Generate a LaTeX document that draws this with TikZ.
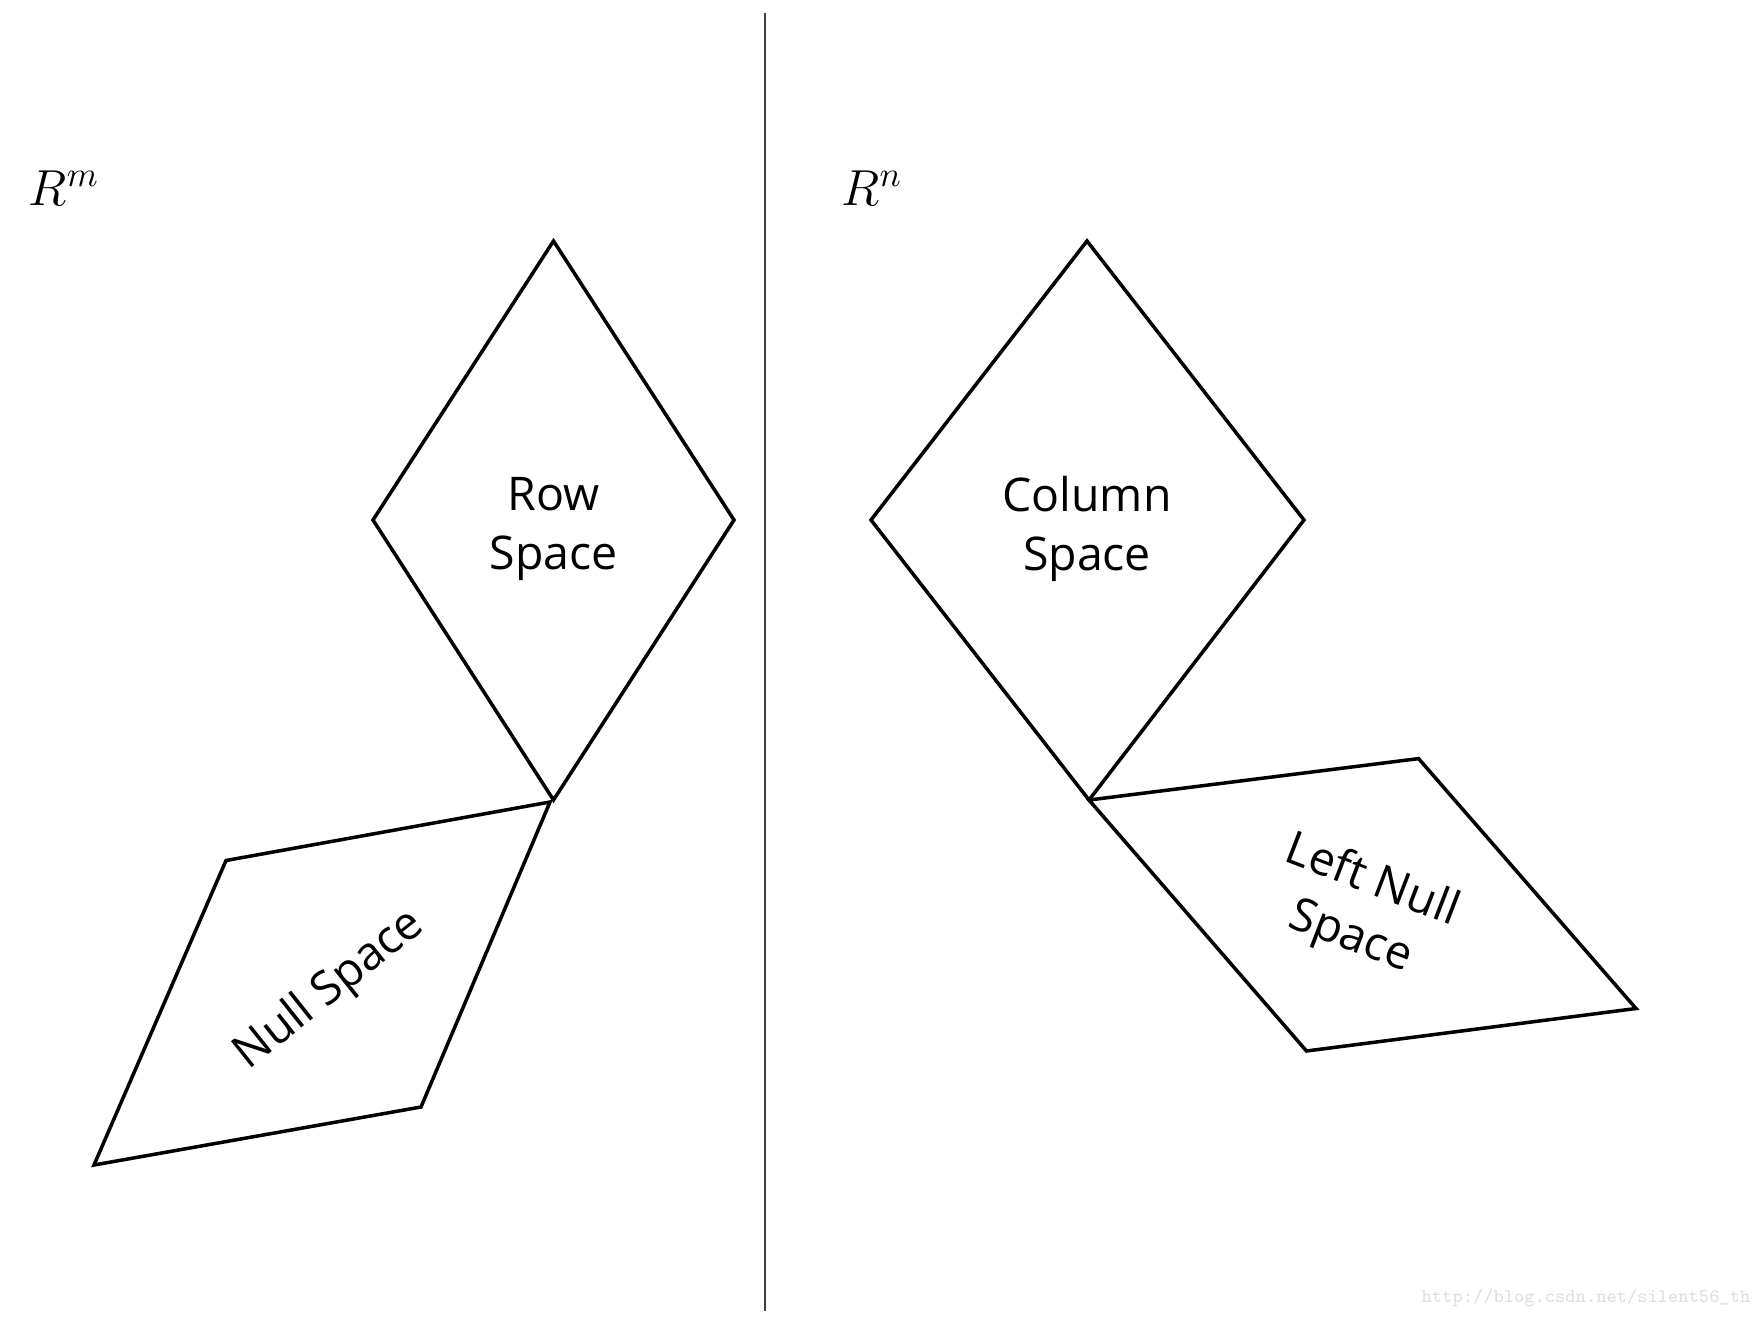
\documentclass[tikz,border=0pt]{standalone}
\usepackage{fontspec}
\setsansfont{Open Sans}
\begin{document}
\begin{tikzpicture} [x=.01cm,y=-.01cm]
\tikzset{space/.style={draw=black,line width=1pt},
  lbl/.style={font=\sffamily\fontsize{13.2}{17}\selectfont,align=center,inner sep=0pt},
  dimlbl/.style={font=\fontsize{14}{17}\selectfont,inner sep=0pt}}
\useasboundingbox (0,0) rectangle (1757,1318);

\draw [line width=.6pt,black!75] (765,13) -- (765,1311);

\coordinate (rtop) at (553.5,241);
\coordinate (rleft) at (373,520);
\coordinate (rright) at (734,520);
\coordinate (rbot) at (553.5,800);
\draw [space] (rtop) -- (rright) -- (rbot) -- (rleft) -- cycle;

\coordinate (ntr) at (550,802);
\coordinate (ntl) at (226,860.5);
\coordinate (nbl) at (94,1165);
\coordinate (nbr) at (421,1107);
\draw [space] (ntr) -- (ntl) -- (nbl) -- (nbr) -- cycle;

\coordinate (ctop) at (1087,241);
\coordinate (cleft) at (871,520);
\coordinate (cright) at (1304,520);
\coordinate (cbot) at (1089,800);
\draw [space] (ctop) -- (cright) -- (cbot) -- (cleft) -- cycle;

\coordinate (ltr) at (1418.6,758.6);
\coordinate (lbr) at (1636,1008.5);
\coordinate (lbl) at (1306.5,1051);
\draw [space] (cbot) -- (ltr) -- (lbr) -- (lbl) -- cycle;

\node (rm) [dimlbl] at (64,188) {$R^m$};
\node (rn) [dimlbl] at (872,188) {$R^n$};

\node (rowlbl) [lbl] at (553.5,529) {Row\\Space};
\node (collbl) [lbl] at (1087,529) {Column\\Space};
\node (nulllbl) [lbl,rotate=38.5] at (330,990) {Null Space};
\node (leftnulllbl) [lbl,rotate=-21] at (1361,910) {Left Null\\Space};

\node (wm) [font=\ttfamily\fontsize{5.5}{6}\selectfont,text=black!13] at (1586,1298) {http://blog.csdn.net/silent56\_th};
\end{tikzpicture}
\end{document}
